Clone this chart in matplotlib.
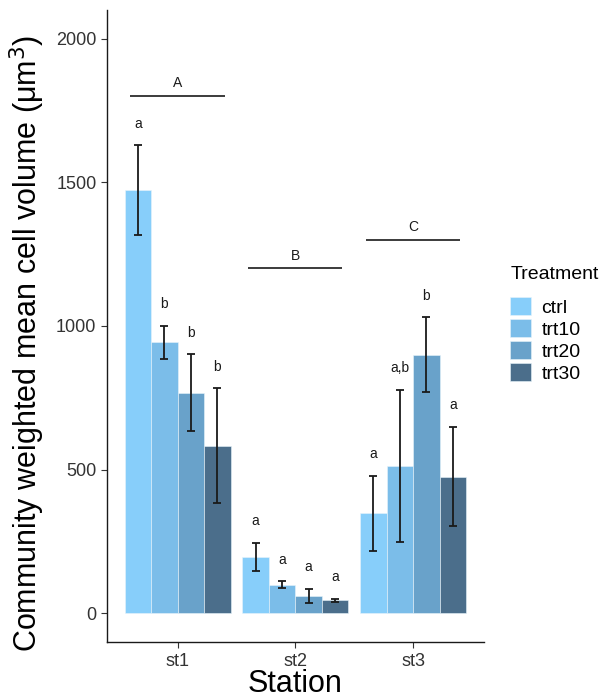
import matplotlib

matplotlib.use("Agg")
import matplotlib.pyplot as plt
import numpy as np
from matplotlib.patches import Patch

plt.rcParams["font.family"] = ["Liberation Sans", "DejaVu Sans"]

stations = ["st1", "st2", "st3"]
treatments = ["ctrl", "trt10", "trt20", "trt30"]
colors = ["#87CEFA", "#7BBDE9", "#69A2CA", "#4B6E8B"]

# mean cell volume per station (rows) and treatment (cols)
means = [
    [1472, 943, 768, 584],
    [197, 100, 61, 46],
    [348, 513, 900, 476],
]
errors = [
    [157, 57, 134, 199],
    [48, 12, 25, 5],
    [130, 265, 130, 173],
]
sig_letters = [
    ["a", "b", "b", "b"],
    ["a", "a", "a", "a"],
    ["a", "a,b", "b", "a"],
]
group_letters = ["A", "B", "C"]
group_line_y = [1800, 1200, 1300]

W, H = 604, 698
fig = plt.figure(figsize=(W / 100, H / 100), dpi=100)
ax = fig.add_axes([0.177, 0.080, 0.624, 0.906])

n_trt = len(treatments)
group_w = 0.9
bar_w = group_w / n_trt
x = np.arange(1, len(stations) + 1)

for j, (trt, col) in enumerate(zip(treatments, colors)):
    pos = x - group_w / 2 + bar_w * (j + 0.5)
    vals = [m[j] for m in means]
    errs = [e[j] for e in errors]
    ax.bar(pos, vals, width=bar_w, color=col, edgecolor="#e8f4fb",
           linewidth=0.4, zorder=2)
    ax.errorbar(pos, vals, yerr=errs, fmt="none", ecolor="#1a1a1a",
                elinewidth=1.3, capsize=3, capthick=1.3, zorder=3)
    for i in range(len(stations)):
        ax.text(pos[i], vals[i] + errs[i] + 75, sig_letters[i][j],
                ha="center", va="center", fontsize=10, color="#1a1a1a")

# station-level grouping bars
for i, (lab, ly) in enumerate(zip(group_letters, group_line_y)):
    ax.plot([x[i] - 0.4, x[i] + 0.4], [ly, ly], color="#1a1a1a",
            linewidth=1.2, solid_capstyle="butt")
    ax.text(x[i], ly + 45, lab, ha="center", va="center", fontsize=10,
            color="#1a1a1a")

ax.set_xlim(0.4, 3.6)
ax.set_ylim(-100, 2100)
ax.set_xticks(x)
ax.set_xticklabels(stations)
ax.set_yticks([0, 500, 1000, 1500, 2000])
ax.tick_params(axis="both", labelsize=13, length=4, width=0.8,
               colors="#333333", labelcolor="#333333")
for side in ["top", "right"]:
    ax.spines[side].set_visible(False)
for side in ["left", "bottom"]:
    ax.spines[side].set_linewidth(1.0)
    ax.spines[side].set_color("#1a1a1a")

fig.text(0.5 * (107 + 484) / W, 1 - 692 / H, "Station", fontsize=22,
         ha="center", va="baseline")
fig.text(27 / W, 1 - 343 / H, "Community weighted mean cell volume (μm$^3$)",
         fontsize=22, rotation=90, ha="center", va="center")

handles = [Patch(facecolor=c, edgecolor="#e8f4fb", linewidth=0.4)
           for c in colors]
leg = fig.legend(handles, treatments, title="Treatment", loc="upper left",
                 bbox_to_anchor=(0.832, 0.630), frameon=False, fontsize=14,
                 title_fontsize=14, handlelength=1.05, handleheight=1.05,
                 handletextpad=0.55, labelspacing=0.12, borderaxespad=0)
leg._legend_box.align = "left"
leg._legend_box.sep = 10

fig.savefig("out.png", dpi=100)
